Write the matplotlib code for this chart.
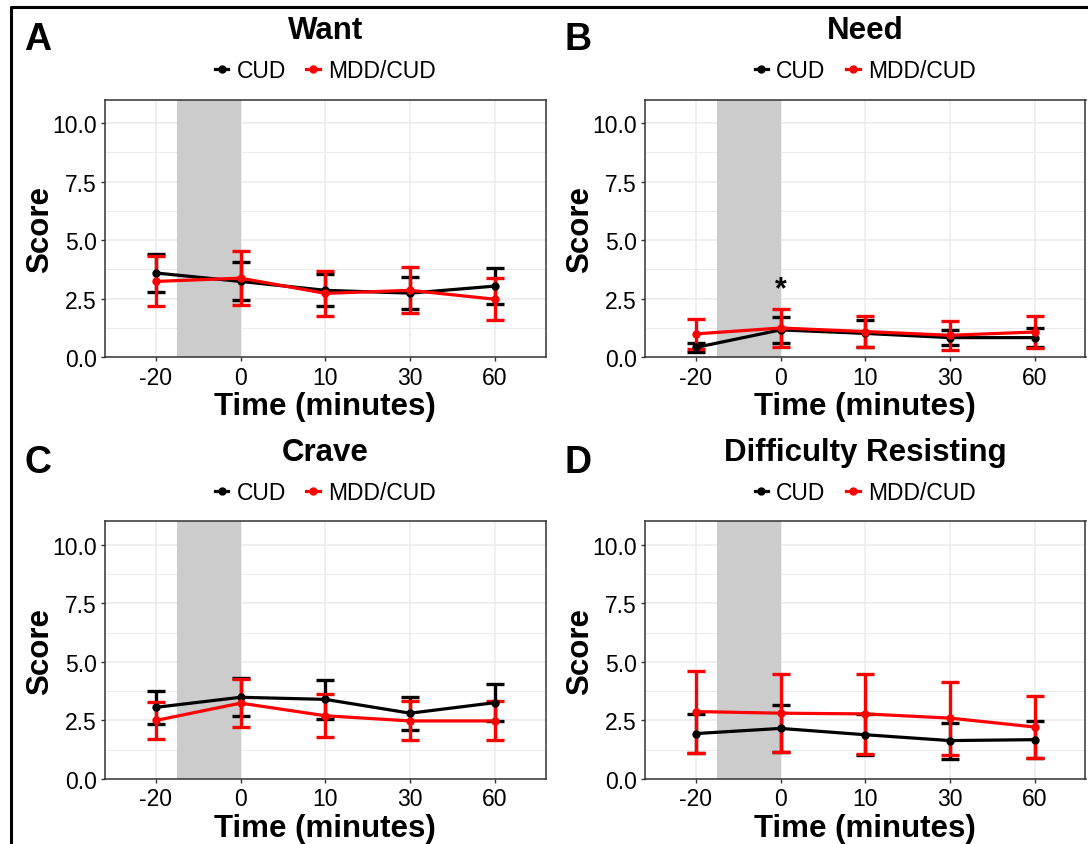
import matplotlib.pyplot as plt
from matplotlib.lines import Line2D

plt.rcParams['font.family'] = ['Liberation Sans', 'DejaVu Sans']

time_labels = ["-20", "0", "10", "30", "60"]
groups = ["CUD", "MDD/CUD"]
colors = ["black", "red"]

titles = ["Want", "Need", "Crave", "Difficulty Resisting"]
letters = ["A", "B", "C", "D"]

# mean scores and error bar half-widths
want_cud = [3.60, 3.24, 2.86, 2.74, 3.04]
want_cud_err = [0.82, 0.81, 0.69, 0.67, 0.76]
want_mdd = [3.24, 3.38, 2.73, 2.86, 2.48]
want_mdd_err = [1.07, 1.14, 0.95, 0.98, 0.89]

need_cud = [0.42, 1.17, 1.02, 0.84, 0.84]
need_cud_err = [0.18, 0.55, 0.56, 0.31, 0.41]
need_mdd = [1.00, 1.25, 1.10, 0.94, 1.08]
need_mdd_err = [0.65, 0.83, 0.67, 0.61, 0.69]

crave_cud = [3.06, 3.49, 3.40, 2.81, 3.26]
crave_cud_err = [0.70, 0.81, 0.84, 0.70, 0.78]
crave_mdd = [2.50, 3.24, 2.70, 2.48, 2.48]
crave_mdd_err = [0.80, 1.02, 0.91, 0.83, 0.83]

resist_cud = [1.94, 2.16, 1.89, 1.64, 1.68]
resist_cud_err = [0.83, 1.02, 0.88, 0.77, 0.79]
resist_mdd = [2.88, 2.81, 2.78, 2.60, 2.22]
resist_mdd_err = [1.75, 1.66, 1.70, 1.56, 1.33]

panels = [
    ((want_cud, want_cud_err), (want_mdd, want_mdd_err)),
    ((need_cud, need_cud_err), (need_mdd, need_mdd_err)),
    ((crave_cud, crave_cud_err), (crave_mdd, crave_mdd_err)),
    ((resist_cud, resist_cud_err), (resist_mdd, resist_mdd_err)),
]

# significance marker: panel B, time 0
star_panel, star_x, star_y = 1, 1, 2.9

W, H = 1088, 845
fig = plt.figure(figsize=(W / 100, H / 100), dpi=100)

# axes boxes in pixels: left, top, right, bottom
boxes = [(105, 100.7, 545.7, 358.3), (645, 100.7, 1085.5, 358.3),
         (105, 522.4, 545.7, 780), (645, 522.4, 1085.5, 780)]
letter_pos = [(38, 40), (578, 40), (38, 463), (578, 463)]

x = list(range(1, len(time_labels) + 1))
grid_c = "#ebebeb"

for i, (l, t, r, b) in enumerate(boxes):
    ax = fig.add_axes([l / W, 1 - b / H, (r - l) / W, (b - t) / H])
    ax.set_xlim(0.4, 5.6)
    ax.set_ylim(0, 11)
    ax.set_yticks([0, 2.5, 5, 7.5, 10])
    ax.set_yticklabels(["0.0", "2.5", "5.0", "7.5", "10.0"])
    ax.set_yticks([1.25, 3.75, 6.25, 8.75], minor=True)
    ax.set_xticks(x)
    ax.set_xticklabels(time_labels)
    ax.grid(True, which="major", color=grid_c, lw=1.1, zorder=0)
    ax.grid(True, which="minor", axis="y", color=grid_c, lw=0.7, zorder=0)
    ax.set_axisbelow(True)
    ax.tick_params(which="major", direction="out", length=3, width=1,
                   color="#333333", labelsize=16.5, pad=3)
    ax.tick_params(which="minor", length=0)
    for s in ax.spines.values():
        s.set_color("#333333")
        s.set_linewidth(1.1)

    ax.axvspan(1.25, 2, color="#cccccc", lw=0, zorder=1)

    for (mean, err), c in zip(panels[i], colors):
        ax.errorbar(x, mean, yerr=err, color=c, lw=2.3, elinewidth=2.4,
                    capsize=6.5, capthick=2.4, marker="o", ms=5, zorder=3)

    if i == star_panel:
        ax.text(star_x + 1, star_y, "*", ha="center", va="center",
                fontsize=22, fontweight="bold")

    ax.set_xlabel("Time (minutes)", fontsize=22.5, fontweight="bold", va="center")
    ax.xaxis.set_label_coords(0.5, -0.19)
    ax.set_ylabel("Score", fontsize=22.5, fontweight="bold", va="center")
    ax.yaxis.set_label_coords(-0.148, 0.5)

    ax.text(0.5, 1.27, titles[i], transform=ax.transAxes, ha="center",
            va="center", fontsize=22.5, fontweight="bold")
    handles = [Line2D([0], [0], color=c, lw=2.3, marker="o", ms=5) for c in colors]
    ax.legend(handles, groups, loc="center", bbox_to_anchor=(0.5, 1.112),
              ncol=2, frameon=False, fontsize=16.5, handlelength=0.6,
              handletextpad=0.35, columnspacing=0.9, borderpad=0)

    lx, ly = letter_pos[i]
    fig.text(lx / W, 1 - ly / H, letters[i], ha="center", va="center",
             fontsize=27, fontweight="bold")

# outer frame (left and top edges visible)
fig.add_artist(Line2D([11 / W, 11 / W, 1.0], [0, 1 - 8 / H, 1 - 8 / H],
                      color="black", lw=2.2, transform=fig.transFigure))

fig.savefig("out.png", dpi=100)
